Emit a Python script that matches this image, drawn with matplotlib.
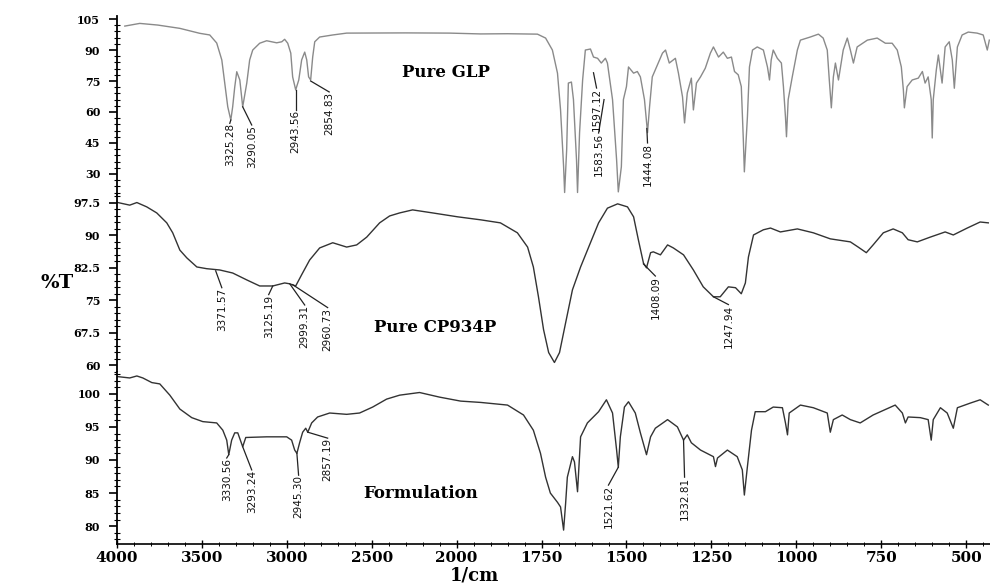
import numpy as np
import matplotlib
matplotlib.use('Agg')
import matplotlib.pyplot as plt
from matplotlib.ticker import FixedLocator, NullFormatter

# ---- spectra: wavenumber (1/cm) and %T ----
glp_wn = [3953, 3865, 3759, 3629, 3512, 3453, 3412, 3382, 3365, 3347, 3329, 3318, 3306, 3294,
          3276, 3259, 3235, 3218, 3200, 3159, 3118, 3059, 3029, 3012, 2994, 2976, 2965, 2947,
          2929, 2912, 2894, 2882, 2871, 2859, 2847, 2835, 2806, 2729, 2647, 2300, 2041, 1929,
          1850, 1762, 1738, 1718, 1703, 1694, 1685, 1682, 1676, 1671, 1662, 1656, 1647, 1644,
          1638, 1629, 1621, 1606, 1597, 1585, 1574, 1562, 1556, 1541, 1529, 1524, 1515, 1509,
          1500, 1494, 1479, 1468, 1459, 1447, 1438, 1432, 1424, 1409, 1394, 1385, 1374, 1356,
          1347, 1335, 1329, 1321, 1309, 1303, 1294, 1282, 1268, 1253, 1244, 1229, 1215, 1203,
          1191, 1182, 1171, 1162, 1156, 1153, 1144, 1138, 1129, 1115, 1097, 1085, 1079, 1074,
          1068, 1056, 1044, 1038, 1032, 1029, 1024, 1012, 997, 988, 959, 935, 921, 909, 903,
          897, 891, 885, 876, 862, 850, 841, 832, 821, 791, 762, 738, 718, 703, 691, 685, 682,
          674, 659, 641, 629, 621, 612, 603, 600, 597, 588, 582, 571, 562, 550, 541, 535, 526,
          512, 494, 468, 450, 438, 432]
glp_t = [101.6, 102.9, 102.1, 100.5, 98.1, 97.3, 93.4, 85.2, 74.0, 62.5, 56.1, 62.5, 72.0, 79.5,
         75.5, 62.5, 74.0, 85.2, 90.0, 93.3, 94.5, 93.5, 94.0, 95.2, 93.3, 88.5, 77.0, 70.7,
         75.5, 85.2, 89.0, 85.2, 77.0, 75.5, 86.6, 94.0, 96.3, 97.3, 98.2, 98.3, 98.2, 97.8,
         97.9, 97.7, 95.8, 90.0, 78.8, 61.0, 33.5, 21.0, 41.7, 74.0, 74.5, 66.0, 36.8, 21.0,
         50.0, 75.5, 90.0, 90.5, 86.6, 86.0, 83.7, 86.0, 83.7, 66.0, 36.8, 21.3, 33.5, 66.0,
         72.3, 81.8, 78.8, 79.6, 77.0, 66.0, 50.0, 62.5, 77.0, 82.7, 88.5, 90.0, 83.7, 86.0,
         78.8, 67.3, 54.7, 69.2, 76.4, 61.0, 74.0, 77.0, 81.2, 88.5, 91.5, 86.6, 89.0, 86.0,
         86.6, 79.6, 78.0, 72.3, 46.5, 31.0, 57.6, 81.8, 90.0, 91.5, 90.0, 81.8, 75.5, 85.2,
         90.0, 86.0, 83.7, 72.3, 57.6, 48.0, 66.0, 77.0, 90.0, 94.8, 96.3, 97.7, 95.8, 90.0, 75.5,
         62.0, 77.0, 83.7, 75.5, 90.0, 95.8, 90.0, 83.7, 91.5, 94.8, 95.8, 93.3, 93.3, 90.0, 81.8, 70.7, 62.0,
         72.3, 75.5, 76.4, 79.6, 74.0, 77.0, 66.0, 47.4, 66.0, 80.4, 87.6, 74.0, 91.5, 94.0, 85.2, 71.5, 91.5,
         97.3, 98.7, 98.2, 97.3, 90.0, 94.8]

cp_wn = [3994, 3924, 3882, 3824, 3765, 3706, 3671, 3629, 3588, 3529, 3471, 3394, 3318, 3235,
         3159, 3082, 3012, 2982, 2947, 2912, 2865, 2806, 2729, 2647, 2588, 2529, 2453, 2394,
         2335, 2259, 2141, 1997, 1929, 1871, 1821, 1791, 1774, 1759, 1744, 1729, 1712, 1697,
         1679, 1659, 1635, 1606, 1582, 1556, 1526, 1497, 1479, 1465, 1450, 1441, 1429, 1421,
         1400, 1379, 1362, 1332, 1303, 1274, 1244, 1224, 1200, 1179, 1162, 1150, 1141, 1126,
         1097, 1076, 1047, 997, 950, 900, 841, 818, 794, 774, 744, 715, 688, 671, 644, 606,
         562, 538, 497, 459, 435]
cp_t = [97.6, 97.0, 97.6, 96.6, 95.2, 92.9, 90.6, 86.6, 84.8, 82.7, 82.3, 82.0, 81.3, 79.7,
        78.3, 78.3, 79.0, 78.8, 78.3, 80.9, 84.3, 87.1, 88.3, 87.3, 87.8, 89.6, 92.9, 94.5,
        95.2, 95.9, 95.2, 94.3, 93.6, 92.9, 90.6, 87.3, 82.7, 75.8, 68.2, 62.9, 60.6, 62.9,
        69.8, 77.4, 82.7, 88.3, 92.9, 96.3, 97.3, 96.6, 94.3, 89.0, 83.6, 82.5, 86.0, 86.2,
        85.5, 87.8, 87.1, 85.5, 82.0, 78.1, 75.8, 75.8, 78.1, 77.9, 76.5, 79.0, 85.0, 90.1,
        91.3, 91.7, 90.8, 91.5, 90.6, 89.2, 88.5, 87.3, 86.0, 87.8, 90.6, 91.5, 90.6, 89.0, 88.5, 89.6,
        90.8, 90.1, 91.7, 93.1, 92.9]

form_wn = [3994, 3924, 3882, 3847, 3794, 3747, 3688, 3629, 3559, 3494, 3412, 3376, 3353, 3341,
           3324, 3306, 3288, 3259, 3241, 3118, 3000, 2971, 2953, 2940, 2924, 2906, 2888, 2876,
           2853, 2818, 2747, 2647, 2571, 2494, 2412, 2335, 2218, 2100, 1988, 1929, 1850, 1803,
           1774, 1753, 1738, 1724, 1703, 1694, 1685, 1679, 1674, 1659, 1653, 1644, 1635, 1615,
           1582, 1559, 1541, 1529, 1524, 1518, 1506, 1494, 1474, 1459, 1441, 1429, 1415, 1379,
           1350, 1332, 1321, 1309, 1282, 1244, 1238, 1232, 1203, 1174, 1159, 1153, 1144, 1132,
           1121, 1091, 1068, 1041, 1032, 1026, 1021, 988, 950, 909, 900, 891, 865, 841, 812,
           774, 709, 688, 679, 671, 635, 612, 603, 597, 576, 556, 538, 526, 488, 459, 435]
form_t = [102.6, 102.4, 102.7, 102.4, 101.7, 101.5, 99.8, 97.7, 96.4, 95.8, 95.6, 94.5, 93.0, 90.8,
          93.0, 94.1, 94.1, 92.0, 93.4, 93.5, 93.5, 93.0, 91.5, 91.0, 92.6, 94.2, 94.8, 94.2,
          95.6, 96.5, 97.1, 96.9, 97.1, 98.0, 99.2, 99.8, 100.2, 99.5, 98.9, 98.7, 98.3, 96.8,
          94.5, 91.0, 87.4, 85.0, 83.6, 82.9, 79.4, 83.5, 87.4, 90.5, 89.7, 85.2, 93.5, 95.6,
          97.3, 99.1, 97.1, 91.5, 88.9, 93.5, 98.0, 98.8, 97.1, 94.1, 90.8, 93.5, 94.8, 96.1,
          95.0, 93.0, 93.8, 92.6, 91.5, 90.5, 89.0, 90.3, 91.5, 90.5, 88.5, 84.7, 89.0, 94.5,
          97.3, 97.3, 98.0, 97.9, 95.6, 93.8, 97.1, 98.3, 97.9, 97.1, 94.2, 96.1, 96.8, 96.1, 95.6,
          96.8, 98.3, 97.1, 95.6, 96.5, 96.4, 96.1, 93.0, 96.1, 97.9, 97.1, 94.8, 97.9, 98.6, 99.1, 98.3]

# peak labels: text, peak (wn, %T), label top (wn, %T)
glp_labels = [("3325.28", 3329, 56.1, 3335, 54.5), ("3290.05", 3259, 62.5, 3206, 53.7),
              ("2943.56", 2947, 70.7, 2947, 61.0), ("2854.83", 2859, 75.0, 2750, 69.7),
              ("1597.12", 1597, 79.0, 1588, 71.6), ("1583.56", 1566, 66.0, 1582, 49.8),
              ("1444.08", 1440, 52.0, 1438, 45.0)]
cp_labels = [("3371.57", 3418, 81.8, 3382, 77.9), ("3125.19", 3082, 78.3, 3106, 76.3),
             ("2999.31", 2982, 78.8, 2894, 73.9), ("2960.73", 2965, 78.6, 2759, 73.3),
             ("1408.09", 1450, 83.4, 1415, 80.6), ("1247.94", 1244, 75.8, 1200, 74.0)]
form_labels = [("3330.56", 3341, 90.8, 3353, 90.3), ("3293.24", 3259, 92.0, 3206, 88.5),
               ("2945.30", 2940, 91.0, 2930, 87.7), ("2857.19", 2876, 94.2, 2759, 93.3),
               ("1521.62", 1524, 88.9, 1553, 86.2), ("1332.81", 1332, 93.0, 1329, 87.4)]

panel_names = ["Pure GLP", "Pure CP934P", "Formulation"]
y_ticks = [[30, 45, 60, 75, 90, 105], [60, 67.5, 75, 82.5, 90, 97.5], [80, 85, 90, 95, 100]]
y_tick_labels = [["30", "45", "60", "75", "90", "105"],
                 ["60", "67.5", "75", "82.5", "90", "97.5"],
                 ["80", "85", "90", "95", "100"]]
y_minor = [3, 1.5, 1]
y_limits = [(19.8, 106.5), (58.4, 99.35), (77.3, 103.3)]
x_ticks = [4000, 3500, 3000, 2500, 2000, 1750, 1500, 1250, 1000, 750, 500]


# Shimadzu style axis: 4000-2000 compressed, below 2000 doubled
def fwd(w):
    w = np.asarray(w, dtype=float)
    return np.where(w >= 2000, w, 2 * w - 2000)


def inv(u):
    u = np.asarray(u, dtype=float)
    return np.where(u >= 2000, u, (u + 2000) / 2)


serif = 'DejaVu Serif'
narrow = ['Liberation Sans Narrow', 'DejaVu Sans']

fig = plt.figure(figsize=(9.9, 5.85), dpi=100)
boxes = [(0.118, 0.6667, 0.882, 0.306), (0.118, 0.3641, 0.882, 0.3026), (0.118, 0.0701, 0.882, 0.294)]
spectra = [(glp_wn, glp_t, '#8a8a8a'), (cp_wn, cp_t, '#333333'), (form_wn, form_t, '#333333')]
labels = [glp_labels, cp_labels, form_labels]
title_pos = [(0.377, 0.687), (0.365, 0.254), (0.348, 0.291)]

for i in range(3):
    ax = fig.add_axes(boxes[i])
    ax.set_xscale('function', functions=(fwd, inv))
    wn, t, col = spectra[i]
    ax.plot(wn, t, color=col, lw=1.0)
    ax.set_xlim(4000, 430)
    ax.set_ylim(*y_limits[i])

    for s in ['top', 'right']:
        ax.spines[s].set_visible(False)
    ax.spines['left'].set_linewidth(1.3)
    ax.yaxis.set_major_locator(FixedLocator(y_ticks[i]))
    ax.set_yticklabels(y_tick_labels[i], fontfamily=serif, fontweight='bold', fontsize=8)
    lo, hi = y_limits[i]
    ax.yaxis.set_minor_locator(FixedLocator(np.arange(y_ticks[i][0] - 3 * y_minor[i], hi, y_minor[i])))
    ax.tick_params(axis='y', which='major', direction='out', length=6, width=1.2, pad=6)
    ax.tick_params(axis='y', which='minor', direction='inout', length=4, width=0.8)

    if i < 2:
        ax.spines['bottom'].set_visible(False)
        ax.tick_params(axis='x', which='both', bottom=False, labelbottom=False)
    else:
        ax.spines['bottom'].set_linewidth(1.2)
        ax.xaxis.set_major_locator(FixedLocator(x_ticks))
        ax.set_xticklabels([str(x) for x in x_ticks], fontfamily=serif, fontweight='bold', fontsize=11)
        minor = list(range(4000, 2000, -100)) + list(range(2000, 400, -50))
        ax.xaxis.set_minor_locator(FixedLocator(minor))
        ax.xaxis.set_minor_formatter(NullFormatter())
        ax.tick_params(axis='x', which='major', direction='inout', length=6, width=1, pad=2)
        ax.tick_params(axis='x', which='minor', direction='inout', length=3, width=0.7)

    for txt, pw, pt, lw_, lt in labels[i]:
        ax.plot([pw, lw_], [pt, lt], color='#222222', lw=0.9)
        ax.text(lw_, lt, txt, rotation=90, ha='center', va='top', fontsize=7.5,
                family=narrow, color='#111111')

    ax.text(title_pos[i][0], title_pos[i][1], panel_names[i], transform=ax.transAxes,
            ha='center', va='center', fontsize=12, fontweight='bold', fontfamily=serif)

fig.text(0.058, 0.516, '%T', fontsize=14, fontweight='bold', fontfamily=serif, ha='center', va='center')
fig.text(0.479, 0.001, '1/cm', fontsize=13, fontweight='bold', fontfamily=serif, ha='center', va='bottom')

fig.savefig('out.png', dpi=100)
